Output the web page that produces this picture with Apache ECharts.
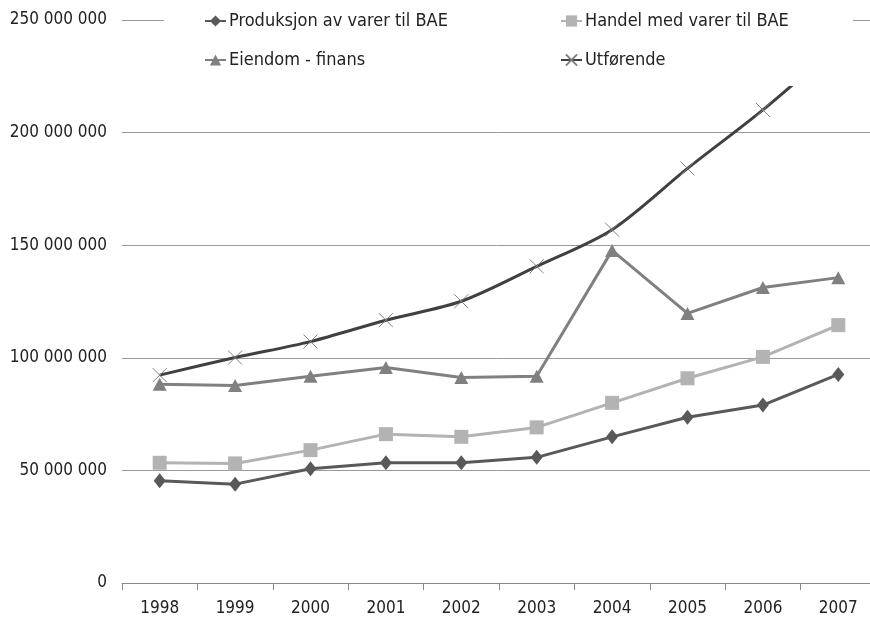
<!DOCTYPE html>
<html>
<head>
<meta charset="utf-8">
<script src="https://cdn.jsdelivr.net/npm/echarts@6/dist/echarts.min.js"></script>
<style>html,body{margin:0;padding:0;background:#fff}#c{width:870px;height:631px}</style>
</head>
<body>
<div id="c"></div>
<script>
const years = ['1998','1999','2000','2001','2002','2003','2004','2005','2006','2007'];
const produksjon = [45.4e6, 43.9e6, 50.7e6, 53.4e6, 53.4e6, 55.8e6, 64.9e6, 73.6e6, 79.0e6, 92.6e6];
const handel = [53.4e6, 53.1e6, 59.0e6, 66.1e6, 64.9e6, 69.1e6, 80.0e6, 90.9e6, 100.4e6, 114.5e6];
const eiendom = [88.3e6, 87.7e6, 91.8e6, 95.7e6, 91.3e6, 91.8e6, 147.7e6, 119.7e6, 131.2e6, 135.6e6];
const utforende = [92.3e6, 100.1e6, 107.2e6, 116.7e6, 125.1e6, 140.6e6, 156.9e6, 184.1e6, 210.1e6, 239.0e6];
const names = ['Produksjon av varer til BAE', 'Handel med varer til BAE', 'Eiendom - finans', 'Utførende'];

const FONT = '"DejaVu Sans Condensed", "DejaVu Sans", sans-serif';
const FS = 17;
const fmt = v => String(v).replace(/\B(?=(\d{3})+(?!\d))/g, ' ');
const xPath = 'path://M0,0L10,10M10,0L0,10';

const chart = echarts.init(document.getElementById('c'), null, {renderer: 'canvas'});
chart.setOption({
  animation: false,
  backgroundColor: '#fff',
  grid: {left: 122, top: 20, right: -6, bottom: 48, containLabel: false, outerBoundsMode: 'none'},
  legend: [
    {data: [names[0], names[2]], orient: 'vertical', left: 204, top: 11, itemGap: 19,
     itemWidth: 21, itemHeight: 14, itemGap: 19, padding: 0, z: 5,
     textStyle: {fontFamily: FONT, fontSize: 18, color: '#222', lineHeight: 20, padding: [0, 0, 0, -2]}},
    {data: [names[1], names[3]], orient: 'vertical', left: 560, top: 11, itemGap: 19,
     itemWidth: 21, itemHeight: 14, padding: 0, z: 5,
     textStyle: {fontFamily: FONT, fontSize: 18, color: '#222', lineHeight: 20, padding: [0, 0, 0, -2]}}
  ],
  graphic: [{type: 'rect', z: 3, silent: true,
    shape: {x: 164, y: 0, width: 689, height: 86}, style: {fill: '#fff'}}],
  xAxis: {
    type: 'category', data: years, boundaryGap: true,
    axisLine: {lineStyle: {color: '#888', width: 1}},
    axisTick: {show: true, length: 7, lineStyle: {color: '#888'}},
    axisLabel: {fontFamily: FONT, fontSize: FS, color: '#222', margin: 17}
  },
  yAxis: {
    type: 'value', min: 0, max: 250000000, interval: 50000000,
    axisLine: {show: false}, axisTick: {show: false},
    splitLine: {lineStyle: {color: '#999', width: 1}},
    axisLabel: {fontFamily: FONT, fontSize: FS, color: '#222', margin: 15, formatter: fmt}
  },
  series: [
    {name: names[0], type: 'line', data: produksjon, symbol: 'diamond', symbolSize: [12, 15],
     lineStyle: {color: '#595959', width: 3}, itemStyle: {color: '#595959', borderWidth: 0}, z: 2},
    {name: names[1], type: 'line', data: handel, symbol: 'rect', symbolSize: 14,
     lineStyle: {color: '#b3b3b3', width: 3}, itemStyle: {color: '#b3b3b3', borderWidth: 0}, z: 2},
    {name: names[2], type: 'line', data: eiendom, symbol: 'triangle', symbolSize: [14, 13],
     lineStyle: {color: '#808080', width: 3}, itemStyle: {color: '#808080', borderWidth: 0}, z: 2},
    {name: names[3], type: 'line', data: utforende, symbol: xPath, symbolSize: 14, smooth: 0.3,
     lineStyle: {color: '#404040', width: 3},
     itemStyle: {color: 'none', borderColor: '#808080', borderWidth: 1}, z: 2}
  ]
});
</script>
</body>
</html>
